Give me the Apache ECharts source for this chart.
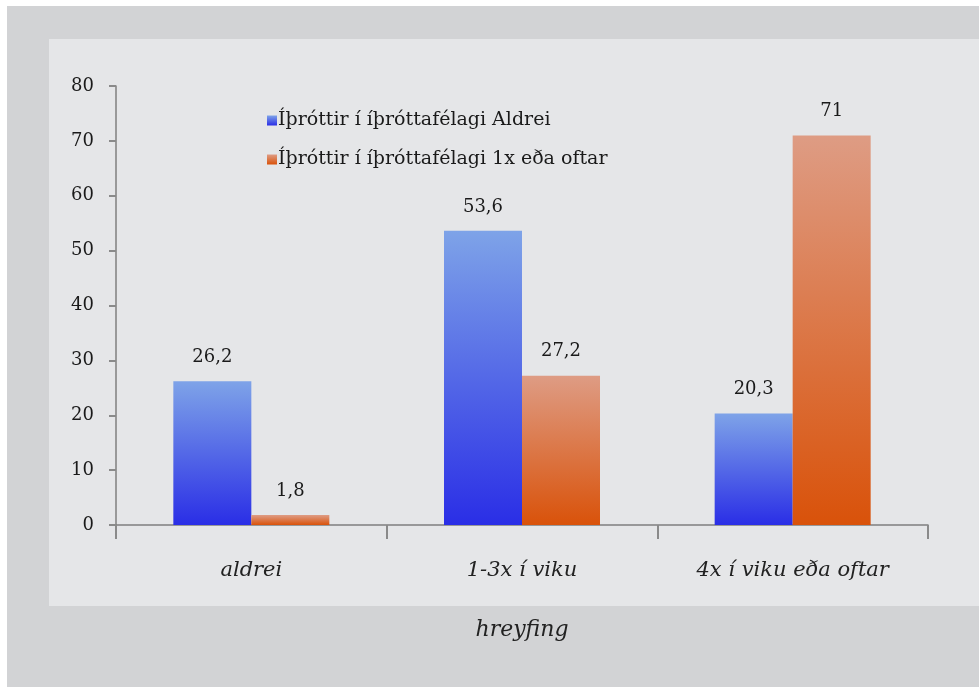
<!DOCTYPE html>
<html>
<head>
<meta charset="utf-8">
<script src="https://cdn.jsdelivr.net/npm/echarts@6/dist/echarts.min.js"></script>
<style>
  html, body { margin: 0; padding: 0; background: #ffffff; }
  #chart { width: 979px; height: 687px; }
</style>
</head>
<body>
<div id="chart"></div>
<script>
// Activity level categories and the two survey groups (percent)
const categories = ['aldrei', '1-3x í viku', '4x í viku eða oftar'];
const seriesNames = ['Íþróttir í íþróttafélagi Aldrei', 'Íþróttir í íþróttafélagi 1x eða oftar'];
const aldreiValues = [26.2, 53.6, 20.3];
const oftarValues = [1.8, 27.2, 71];
const yTicks = { min: 0, max: 80, interval: 10 };

const serif = '"DejaVu Serif", "Liberation Serif", serif';

function grad(top, bottom) {
  return new echarts.graphic.LinearGradient(0, 0, 0, 1, [
    { offset: 0, color: top },
    { offset: 1, color: bottom }
  ]);
}

const fmt = p => String(p.value).replace('.', ',');

const chart = echarts.init(document.getElementById('chart'));
chart.setOption({
  animation: false,
  backgroundColor: '#ffffff',
  graphic: [
    { type: 'rect', z: -10, shape: { x: 7, y: 6, width: 972, height: 681 }, style: { fill: '#d2d3d5' } },
    { type: 'rect', z: -9, shape: { x: 49, y: 39, width: 930, height: 567 }, style: { fill: '#e5e6e8' } }
  ],
  legend: {
    orient: 'vertical',
    left: 262,
    top: 106,
    itemWidth: 10,
    itemHeight: 10,
    itemGap: 20,
    icon: 'rect',
    textStyle: { fontFamily: serif, fontSize: 19, color: '#1a1a1a', padding: [0, 0, 0, -4] },
    data: seriesNames
  },
  grid: { left: 116, right: 51, top: 86, bottom: 162, containLabel: false },
  xAxis: {
    type: 'category',
    data: categories,
    name: 'hreyfing',
    nameLocation: 'middle',
    nameGap: 94,
    nameTextStyle: { fontFamily: serif, fontStyle: 'italic', fontSize: 22, color: '#222' },
    axisLine: { lineStyle: { color: '#7f7f7f', width: 1.5 } },
    axisTick: { show: true, length: 14, lineStyle: { color: '#8a8a8a', width: 2 } },
    axisLabel: { fontFamily: serif, fontStyle: 'italic', fontSize: 21, color: '#222', margin: 35 }
  },
  yAxis: {
    type: 'value',
    min: yTicks.min,
    max: yTicks.max,
    interval: yTicks.interval,
    axisLine: { show: true, lineStyle: { color: '#7f7f7f', width: 1.5 } },
    axisTick: { show: true, length: 7, lineStyle: { color: '#8a8a8a', width: 2 } },
    splitLine: { show: false },
    axisLabel: { fontFamily: serif, fontSize: 18, color: '#1a1a1a', margin: 22 }
  },
  series: [
    {
      name: seriesNames[0],
      type: 'bar',
      data: aldreiValues,
      barWidth: 78,
      barGap: '0%',
      itemStyle: { color: grad('#7ea3e8', '#2a2ee6') },
      label: { show: true, position: 'top', distance: 15, formatter: fmt,
               fontFamily: serif, fontSize: 18, color: '#1a1a1a' }
    },
    {
      name: seriesNames[1],
      type: 'bar',
      data: oftarValues,
      barWidth: 78,
      barGap: '0%',
      itemStyle: { color: grad('#de9c84', '#d9520a') },
      label: { show: true, position: 'top', distance: 15, formatter: fmt,
               fontFamily: serif, fontSize: 18, color: '#1a1a1a' }
    }
  ]
});
</script>
</body>
</html>
